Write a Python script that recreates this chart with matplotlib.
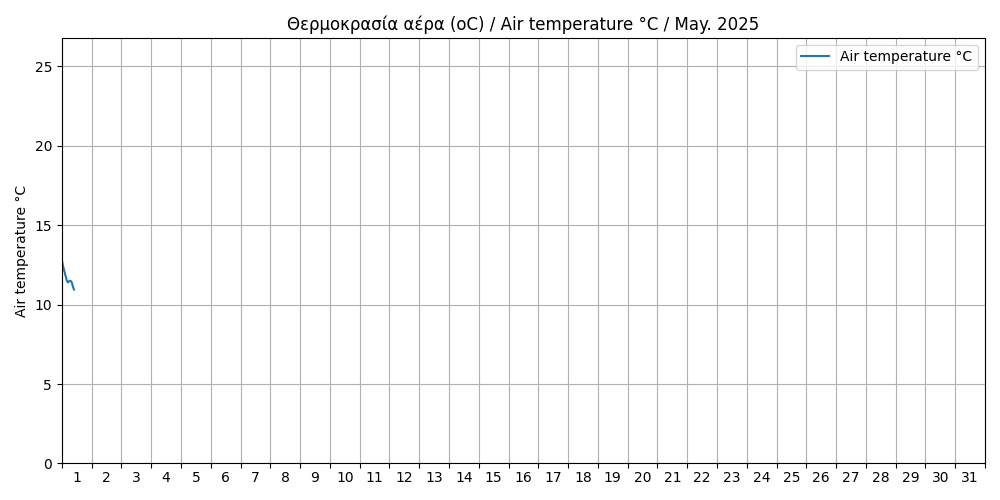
import matplotlib
matplotlib.use("Agg")
import matplotlib.pyplot as plt
import numpy as np

# hourly readings of May 1st, 2025
hours = [0, 1, 2, 3, 4, 5, 6, 7, 8, 9, 9.8]
temps = [12.8, 12.4, 12.1, 11.8, 11.5, 11.4, 11.5, 11.5, 11.4, 11.1, 10.95]
day_labels = [str(d) for d in range(1, 32)]

x = [1 + h / 24 for h in hours]

fig, ax = plt.subplots(figsize=(10, 5), dpi=100)
ax.plot(x, temps, color="#1f77b4", label="Air temperature °C")

ax.set_xlim(1, 32)
ax.set_ylim(0, 26.8)

# day boundaries as major ticks, day numbers centered on minor ticks
ax.set_xticks(np.arange(1, 33))
ax.set_xticklabels([])
ax.set_xticks(np.arange(1.5, 32), minor=True)
ax.set_xticklabels(day_labels, minor=True)
ax.tick_params(axis="x", which="minor", length=0, pad=5.4)
ax.set_yticks([0, 5, 10, 15, 20, 25])

ax.grid(True, which="major")
ax.set_ylabel("Air temperature °C")
ax.set_title("Θερμοκρασία αέρα (oC) / Air temperature °C / May. 2025")
ax.legend(loc="upper right")

plt.tight_layout()
plt.savefig("out.png")
plt.close()
